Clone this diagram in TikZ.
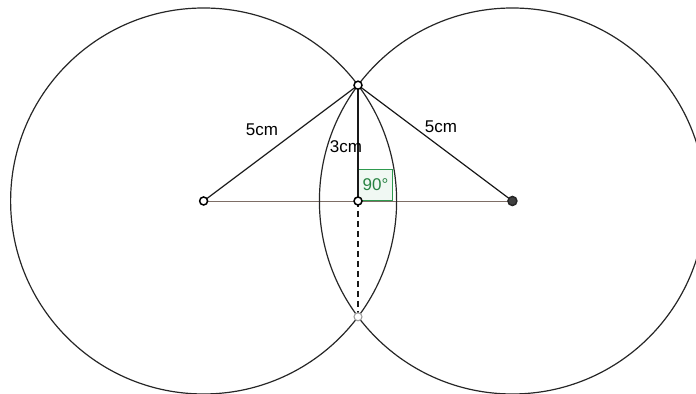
\documentclass[tikz,border=0pt]{standalone}
\usepackage{fontspec}
\setmainfont{Liberation Sans}
\usetikzlibrary{positioning,calc}
\definecolor{AngGreen}{HTML}{2E9A4E}
\definecolor{BaseBrown}{HTML}{7E6E66}

\begin{document}
\begin{tikzpicture}[
  x=38.6pt, y=38.6pt,
  circ/.style={draw=black!85, line width=1.2pt},
  seg/.style={draw=black!90, line width=1.2pt},
  base/.style={draw=BaseBrown, line width=0.8pt},
  pt/.style={circle, draw=black, fill=white, line width=1.5pt, inner sep=0pt, minimum size=8pt},
  ptGrey/.style={pt, draw=gray!75, line width=1.1pt},
  ptFull/.style={pt, fill=black!75, draw=black!85, minimum size=9pt},
  lbl/.style={font=\fontsize{17}{20}\selectfont, inner sep=1pt},
  ang/.style={rectangle, draw=AngGreen, fill=AngGreen!7, line width=1pt, minimum width=34pt, minimum height=31pt, inner sep=0pt, font=\fontsize{17}{20}\selectfont, text=AngGreen!85!black}
]
\useasboundingbox (-9.275,-5.0) rectangle (8.756,5.207);
\clip (-9.275,-5.0) rectangle (8.756,5.207);

\coordinate (A) at (-4,0);
\coordinate (B) at (4,0);
\coordinate (M) at (0,0);
\coordinate (P) at (0,3);
\coordinate (Q) at (0,-3);

% right angle mark
\node[ang, anchor=south west] (rt) at (M) {90°};

\draw[base] (A) -- (B);
\draw[circ] (A) circle (5);
\draw[circ] (B) circle (5);
\draw[seg] (A) -- (P);
\draw[seg] (P) -- (B);
\draw[seg] (P) -- (M);
\draw[seg, dashed, dash pattern=on 6pt off 4pt] (M) -- (Q);

\node[lbl] (lenAP) at (-2.49,1.84) {5cm};
\node[lbl] (lenPM) at (-0.31,1.40) {3cm};
\node[lbl] (lenPB) at (2.15,1.92) {5cm};

\node[pt]     (ptA) at (A) {};
\node[ptFull] (ptB) at (B) {};
\node[pt]     (ptM) at (M) {};
\node[pt]     (ptP) at (P) {};
\node[ptGrey] (ptQ) at (Q) {};
\end{tikzpicture}
\end{document}
